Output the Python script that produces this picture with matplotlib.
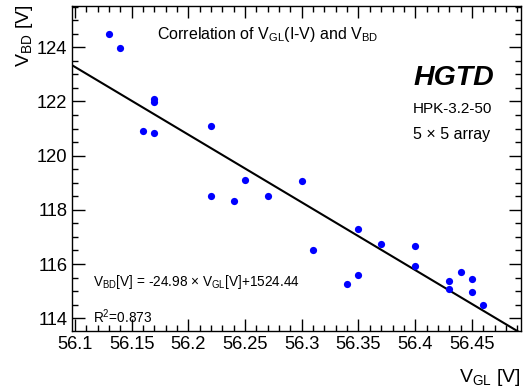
#!/usr/bin/env python3
"""Correlation of V_GL (I-V) and V_BD for the HPK-3.2-50 5x5 array."""
import numpy as np
import matplotlib
matplotlib.use("Agg")
import matplotlib.pyplot as plt
from matplotlib.ticker import MultipleLocator

plt.rcParams["font.family"] = ["Liberation Sans", "DejaVu Sans"]
plt.rcParams["mathtext.fontset"] = "custom"
plt.rcParams["mathtext.rm"] = "Liberation Sans"
plt.rcParams["mathtext.it"] = "Liberation Sans:italic"
plt.rcParams["mathtext.bf"] = "Liberation Sans:bold"

# data
V_GL = [56.13, 56.14, 56.17, 56.17, 56.16, 56.17, 56.22, 56.25, 56.30, 56.22,
        56.24, 56.27, 56.31, 56.35, 56.37, 56.40, 56.40, 56.34, 56.35, 56.43,
        56.43, 56.44, 56.45, 56.45, 56.46]
V_BD = [124.48, 123.96, 122.10, 121.98, 120.91, 120.85, 121.10, 119.10, 119.08, 118.51,
        118.34, 118.52, 116.51, 117.28, 116.75, 116.68, 115.92, 115.28, 115.59, 115.38,
        115.07, 115.71, 115.45, 114.96, 114.50]

FIT_SLOPE = -24.98
FIT_INTERCEPT = 1524.65

X_TICKS = [56.1, 56.15, 56.2, 56.25, 56.3, 56.35, 56.4, 56.45]
X_TICK_LABELS = ["56.1", "56.15", "56.2", "56.25", "56.3", "56.35", "56.4", "56.45"]
Y_TICKS = [114, 116, 118, 120, 122, 124]
Y_TICK_LABELS = ["114", "116", "118", "120", "122", "124"]

W, H = 530, 392


def fx(px):
    return px / W


def fy(py):
    return 1 - py / H


fig = plt.figure(figsize=(W / 100, H / 100), dpi=100)
ax = fig.add_axes([fx(72), fy(331), fx(521) - fx(72), fy(6) - fy(331)])

ax.set_xlim(56.0974, 56.4933)
ax.set_ylim(113.53, 125.52)

ax.plot(V_GL, V_BD, "o", color=(0, 0, 1), ms=5.2, mec="none", zorder=3)

xl = np.array(ax.get_xlim())
ax.plot(xl, FIT_SLOPE * xl + FIT_INTERCEPT, color="black", lw=1.5, zorder=2)

ax.set_xticks(X_TICKS)
ax.set_xticklabels(X_TICK_LABELS)
ax.set_yticks(Y_TICKS)
ax.set_yticklabels(Y_TICK_LABELS)
ax.xaxis.set_minor_locator(MultipleLocator(0.01))
ax.yaxis.set_minor_locator(MultipleLocator(0.5))
ax.tick_params(which="both", direction="in", top=True, right=True, width=1.0,
               labelsize=13.2, pad=3.5)
ax.tick_params(axis="x", which="major", length=8.5)
ax.tick_params(axis="x", which="minor", length=4.2)
ax.tick_params(axis="y", which="major", length=9.0)
ax.tick_params(axis="y", which="minor", length=4.5)
for sp in ax.spines.values():
    sp.set_linewidth(1.0)

fig.text(fx(521), fy(382), r"V$_{\mathrm{GL}}$ [V]", fontsize=14, ha="right", va="baseline")
fig.text(fx(14), fy(5), r"V$_{\mathrm{BD}}$ [V]", fontsize=14, ha="right", va="top",
         rotation=90, rotation_mode="anchor")

fig.text(fx(157), fy(39), r"Correlation of V$_{\mathrm{GL}}$(I-V) and V$_{\mathrm{BD}}$",
         fontsize=11.5, va="baseline")
fig.text(fx(413), fy(85), "HGTD", fontsize=20.5, fontweight="bold", fontstyle="italic",
         va="baseline")
fig.text(fx(413), fy(113), "HPK-3.2-50", fontsize=11.0, va="baseline")
fig.text(fx(413), fy(139), "5 \u00d7 5 array", fontsize=11.5, va="baseline")
fig.text(fx(93), fy(286),
         r"V$_{\mathrm{BD}}$[V] = -24.98 $\times$ V$_{\mathrm{GL}}$[V]+1524.44",
         fontsize=9.8, va="baseline")
fig.text(fx(93), fy(323), r"R$^{2}$=0.873", fontsize=9.8, va="baseline")

fig.savefig("out.png", dpi=100)
